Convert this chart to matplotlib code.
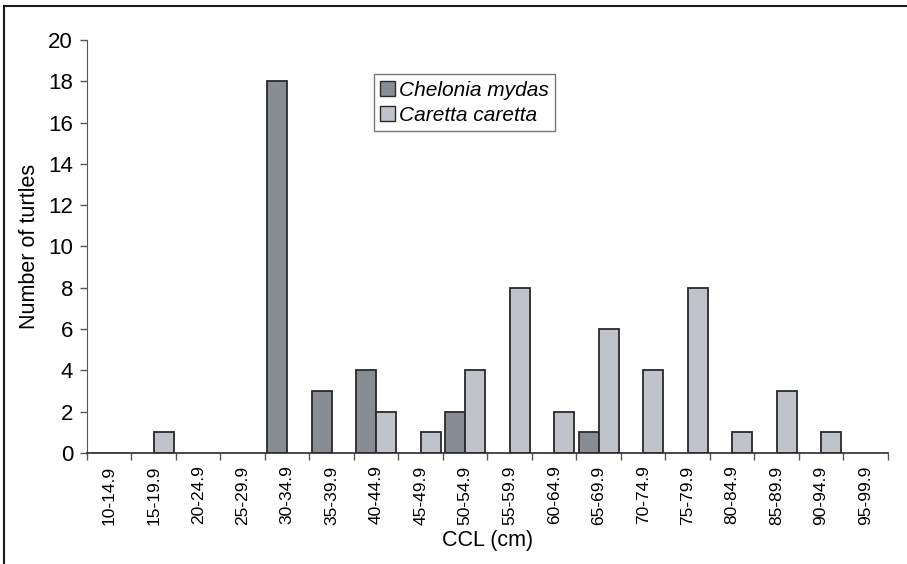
import numpy as np
import matplotlib.pyplot as plt
from matplotlib.lines import Line2D

plt.rcParams['font.family'] = ['Liberation Sans', 'DejaVu Sans']

classes = ['10-14.9', '15-19.9', '20-24.9', '25-29.9', '30-34.9', '35-39.9',
           '40-44.9', '45-49.9', '50-54.9', '55-59.9', '60-64.9', '65-69.9',
           '70-74.9', '75-79.9', '80-84.9', '85-89.9', '90-94.9', '95-99.9']
chelonia = [0, 0, 0, 0, 18, 3, 4, 0, 2, 0, 0, 1, 0, 0, 0, 0, 0, 0]
caretta = [0, 1, 0, 0, 0, 0, 2, 1, 4, 8, 2, 6, 4, 8, 1, 3, 1, 0]

fig = plt.figure(figsize=(9.07, 5.64), dpi=100)
ax = fig.add_axes([0.0959, 0.197, 0.883, 0.732])

x = np.arange(len(classes))
w = 0.45
for i in x:
    if chelonia[i] > 0:
        ax.bar(i - w / 2, chelonia[i], width=w, color='#878d93',
               edgecolor='#2a2a2a', linewidth=1.3)
    if caretta[i] > 0:
        ax.bar(i + w / 2, caretta[i], width=w, color='#c0c3ca',
               edgecolor='#2a2a2a', linewidth=1.3)

# legend proxies
ax.bar([0], [0], color='#878d93', edgecolor='#2a2a2a', label='Chelonia mydas')
ax.bar([0], [0], color='#c0c3ca', edgecolor='#2a2a2a', label='Caretta caretta')

ax.set_xlim(-0.5, len(classes) - 0.5)
ax.set_ylim(0, 20)
ax.set_yticks(range(0, 21, 2))
ax.tick_params(axis='y', labelsize=16, length=5, width=1, color='#555555',
               pad=5)
ax.set_xticks(x)
ax.set_xticklabels(classes, rotation=90, fontsize=12.5)
ax.set_xticks(np.arange(-0.5, len(classes)), minor=True)
ax.tick_params(axis='x', which='major', length=0, pad=9)
ax.tick_params(axis='x', which='minor', length=5, width=1, color='#555555')

for s in ['top', 'right']:
    ax.spines[s].set_visible(False)
ax.spines['left'].set_color('#555555')
ax.spines['bottom'].set_color('#2a2a2a')
ax.spines['bottom'].set_linewidth(1.2)

ax.set_ylabel('Number of turtles', fontsize=15.5, labelpad=6)
ax.set_xlabel('CCL (cm)', fontsize=15.5, labelpad=4)

leg = ax.legend(loc='upper left', bbox_to_anchor=(0.358, 0.917),
                prop={'style': 'italic', 'size': 15}, frameon=True,
                fancybox=False, handlelength=0.7, handleheight=0.7,
                handletextpad=0.2, borderpad=0.3, labelspacing=0.3,
                borderaxespad=0)
leg.get_frame().set_edgecolor('#555555')
leg.get_frame().set_linewidth(1)

# outer frame
fig.add_artist(Line2D([0.0045, 1.0], [0.989, 0.989], color='#1a1a1a', lw=1.5))
fig.add_artist(Line2D([0.0045, 0.0045], [0.0, 0.989], color='#1a1a1a', lw=1.5))

fig.savefig('out.png', dpi=100)
